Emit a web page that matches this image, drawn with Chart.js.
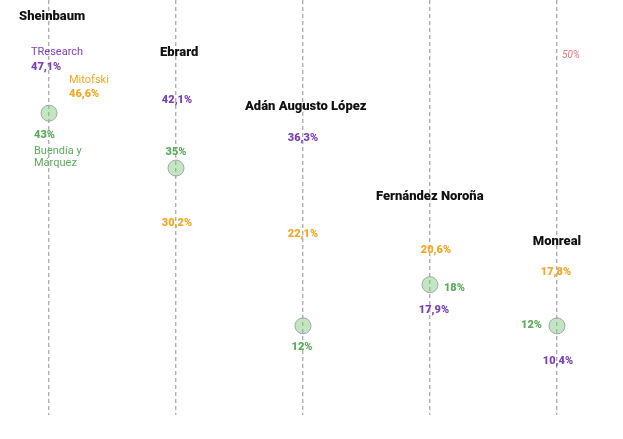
<!DOCTYPE html>
<html>
<head>
<meta charset="utf-8">
<script src="https://cdn.jsdelivr.net/npm/chart.js@4"></script>
<style>
html,body{margin:0;padding:0;background:#fff;}
#wrap{width:623px;height:439px;position:relative;}
</style>
</head>
<body>
<div id="wrap"><canvas id="c" width="623" height="439"></canvas></div>
<script>
// ---- data ----
const candidates = ['Sheinbaum', 'Ebrard', 'Adán Augusto López', 'Fernández Noroña', 'Monreal'];
const buendia   = [43, 35, 12, 18, 12];
const tresearch = [47.1, 42.1, 36.3, 17.9, 10.4];
const mitofski  = [46.6, 30.2, 22.1, 20.6, 17.8];
const refValue  = 50;
const refLabel  = '50%';

// ---- styling / layout ----
const PURPLE = '#7b3fb9', ORANGE = '#f5a623', GREEN = '#5dab5d';
const FONT = 'Roboto, "Liberation Sans", Arial, sans-serif';

// dx,dy are pixel offsets from (candidate line, value on scale)
const tLayout = [
  {dx:-18, dy:-18, align:'left'}, {dx:1, dy:-19, align:'center'}, {dx:0, dy:-21, align:'center'},
  {dx:4, dy:25, align:'center'}, {dx:1, dy:24, align:'center'}];
const mLayout = [
  {dx:20, dy:5.5, align:'left'}, {dx:1, dy:22, align:'center'}, {dx:0, dy:-22, align:'center'},
  {dx:6, dy:-17, align:'center'}, {dx:-1, dy:-14, align:'center'}];
const bLayout = [
  {dx:-15, dy:22, align:'left'}, {dx:0, dy:-16, align:'center'}, {dx:-1, dy:21, align:'center'},
  {dx:14, dy:4, align:'left'}, {dx:-15, dy:-1, align:'right'}];
const nameLayout = [
  {dx:-30, dy:-68, align:'left'}, {dx:-16, dy:-67, align:'left'}, {dx:-58, dy:-52, align:'left'},
  {dx:-54, dy:-70, align:'left'}, {dx:0, dy:-44, align:'center'}];

const fmt = v => (Number.isInteger(v) ? String(v) : v.toFixed(1).replace('.', ',')) + '%';

const labelPlugin = {
  id: 'labels',
  afterDatasetsDraw(chart) {
    const ctx = chart.ctx, xs = chart.scales.x, ys = chart.scales.y;
    ctx.save();
    ctx.textBaseline = 'middle';
    const put = (txt, x, y, align, font, color) => {
      ctx.font = font; ctx.fillStyle = color; ctx.textAlign = align; ctx.fillText(txt, x, y);
    };
    const valFont = '900 11px ' + FONT;
    const pollFont = '11px ' + FONT;
    candidates.forEach((name, i) => {
      const x = xs.getPixelForValue(i);
      // TResearch
      let L = tLayout[i], y = ys.getPixelForValue(tresearch[i]) + L.dy;
      put(fmt(tresearch[i]), x + L.dx, y, L.align, valFont, PURPLE);
      if (i === 0) put('TResearch', x + L.dx, y - 15, L.align, pollFont, PURPLE);
      // Mitofski
      L = mLayout[i]; y = ys.getPixelForValue(mitofski[i]) + L.dy;
      put(fmt(mitofski[i]), x + L.dx, y, L.align, valFont, ORANGE);
      if (i === 0) put('Mitofski', x + L.dx, y - 14, L.align, pollFont, ORANGE);
      // Buendía y Márquez
      L = bLayout[i]; y = ys.getPixelForValue(buendia[i]) + L.dy;
      put(fmt(buendia[i]), x + L.dx, y, L.align, valFont, GREEN);
      if (i === 0) {
        put('Buendía y', x + L.dx, y + 16, L.align, pollFont, GREEN);
        put('Márquez', x + L.dx, y + 28, L.align, pollFont, GREEN);
      }
      // candidate name
      const top = Math.max(tresearch[i], mitofski[i], buendia[i]);
      L = nameLayout[i]; y = ys.getPixelForValue(top) + L.dy;
      put(name, x + L.dx, y, L.align, '900 13px ' + FONT, '#111');
    });
    // 50% reference label
    const xr = xs.getPixelForValue(candidates.length - 1);
    ctx.font = 'italic 10px ' + FONT; ctx.fillStyle = '#e8737d'; ctx.textAlign = 'left';
    ctx.fillText(refLabel, xr + 5, ys.getPixelForValue(refValue) - 10);
    ctx.restore();
  }
};

new Chart(document.getElementById('c'), {
  type: 'scatter',
  data: {
    datasets: [{
      label: 'Buendía y Márquez',
      data: buendia.map((v, i) => ({x: i, y: v})),
      pointRadius: 8,
      pointHoverRadius: 8,
      pointBackgroundColor: 'rgba(120,200,120,0.45)',
      pointBorderColor: '#a6a6a6',
      pointBorderWidth: 1
    }]
  },
  options: {
    responsive: false,
    animation: false,
    layout: {autoPadding: false, padding: {top: 0, bottom: 24, left: 0, right: 0}},
    plugins: {legend: {display: false}, tooltip: {enabled: false}},
    scales: {
      x: {
        type: 'linear', min: -0.386, max: 4.52,
        afterBuildTicks(s) { s.ticks = candidates.map((c, i) => ({value: i})); },
        ticks: {display: false},
        grid: {display: true, color: '#b0b0b0', lineWidth: 1.4, drawTicks: false},
        border: {display: false, dash: [4, 3]}
      },
      y: {
        display: false,
        type: 'linear', min: -1, max: 59.5
      }
    }
  },
  plugins: [labelPlugin]
});
</script>
</body>
</html>
